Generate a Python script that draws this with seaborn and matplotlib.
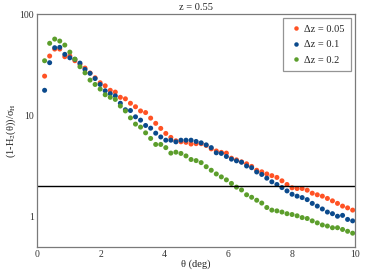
import numpy as np
import pandas as pd
import matplotlib
matplotlib.use("Agg")
import matplotlib.pyplot as plt
import seaborn as sns

# angular bins (deg)
theta = np.linspace(0.23, 9.92, 62)

ratio_dz005 = [24.3, 38.4, 45.0, 45.0, 37.8, 38.4, 34.5, 31.8, 29.2, 26.1,
               23.4, 20.9, 19.5, 17.6, 16.9, 15.0, 14.5, 13.1, 12.1, 11.0,
               10.6, 9.34, 8.29, 7.39, 6.59, 6.02, 5.57, 5.45, 5.38, 5.18,
               5.22, 5.22, 5.01, 4.64, 4.42, 4.28, 4.21, 3.75, 3.61, 3.45,
               3.30, 3.11, 2.85, 2.75, 2.62, 2.52, 2.42, 2.24, 2.06, 1.91,
               1.88, 1.88, 1.81, 1.69, 1.63, 1.58, 1.50, 1.42, 1.34, 1.26,
               1.21, 1.15]

ratio_dz01 = [17.6, 33.0, 46.4, 46.8, 39.9, 36.9, 35.6, 32.7, 28.3, 25.9,
              23.0, 20.1, 17.4, 16.3, 15.5, 13.1, 11.3, 11.1, 9.62, 8.92,
              7.90, 7.43, 6.63, 6.08, 5.65, 5.65, 5.44, 5.65, 5.65, 5.65,
              5.49, 5.32, 5.08, 4.77, 4.24, 4.18, 3.90, 3.67, 3.53, 3.42,
              3.14, 3.02, 2.74, 2.59, 2.38, 2.19, 2.06, 1.92, 1.78, 1.65,
              1.58, 1.53, 1.46, 1.34, 1.26, 1.18, 1.10, 1.06, 1.00, 1.02,
              0.93, 0.90]

ratio_dz02 = [34.5, 51.3, 56.5, 54.0, 49.3, 42.0, 35.8, 30.1, 26.2, 22.2,
              20.1, 18.1, 15.9, 15.0, 14.3, 12.3, 11.0, 9.40, 8.15, 7.61,
              6.68, 5.88, 5.13, 5.13, 4.77, 4.21, 4.30, 4.18, 3.95, 3.64,
              3.55, 3.39, 3.09, 2.85, 2.62, 2.45, 2.29, 2.11, 1.94, 1.82,
              1.63, 1.54, 1.44, 1.35, 1.22, 1.15, 1.13, 1.10, 1.06, 1.04,
              1.01, 0.97, 0.95, 0.90, 0.86, 0.82, 0.80, 0.77, 0.77, 0.74,
              0.71, 0.68]

labels = ["Δz = 0.05", "Δz = 0.1", "Δz = 0.2"]
cores = ["#FF5224", "#0B4A8C", "#5C9E2C"]

df = pd.concat([
    pd.DataFrame({"theta": theta, "ratio": ratio_dz005, "serie": labels[0]}),
    pd.DataFrame({"theta": theta, "ratio": ratio_dz01, "serie": labels[1]}),
    pd.DataFrame({"theta": theta, "ratio": ratio_dz02, "serie": labels[2]}),
])

sns.set_style("white")
plt.rcParams["font.family"] = ["Liberation Serif", "DejaVu Serif"]
plt.rcParams["mathtext.fontset"] = "stix"

fig = plt.figure(figsize=(3.74, 2.80), dpi=100)
ax = fig.add_axes([0.0997, 0.119, 0.850, 0.831])

sns.scatterplot(data=df, x="theta", y="ratio", hue="serie", palette=cores,
                s=13, linewidth=0, ax=ax)

ax.axhline(2, color="black", linewidth=1)

ax.set_yscale("log")
ax.set_xlim(0, 10)
ax.set_ylim(0.5, 100)
ax.set_xticks([0, 2, 4, 6, 8, 10])
ax.set_xticks([1, 3, 5, 7, 9], minor=True)
ax.set_yticks([1, 10, 100])
ax.set_yticklabels(["1", "10", "100"])

cinza = "#7a7a7a"
for sp in ax.spines.values():
    sp.set_color(cinza)
    sp.set_linewidth(0.9)
ax.tick_params(which="both", direction="in", color=cinza, labelsize=7,
               labelcolor="#333333", pad=2.5)
ax.tick_params(which="major", length=4)
ax.tick_params(which="minor", length=2.5)

ax.set_title("z = 0.55", fontsize=7.5, color="#222222", pad=3)
ax.set_xlabel("θ (deg)", fontsize=7.5, color="#222222", labelpad=0)
ax.set_ylabel(r"(1-H$_2$(θ))/σ$_{\rm H}$", fontsize=7.5, color="#222222", labelpad=1)

leg = ax.legend(loc="upper right", fontsize=7.5, frameon=True, fancybox=False,
                edgecolor=cinza, borderpad=0.6, handletextpad=0.2,
                handlelength=1.2, labelspacing=0.6, markerscale=0.9,
                borderaxespad=0.4)
leg.get_frame().set_linewidth(0.9)

fig.savefig("out.png", dpi=100)
